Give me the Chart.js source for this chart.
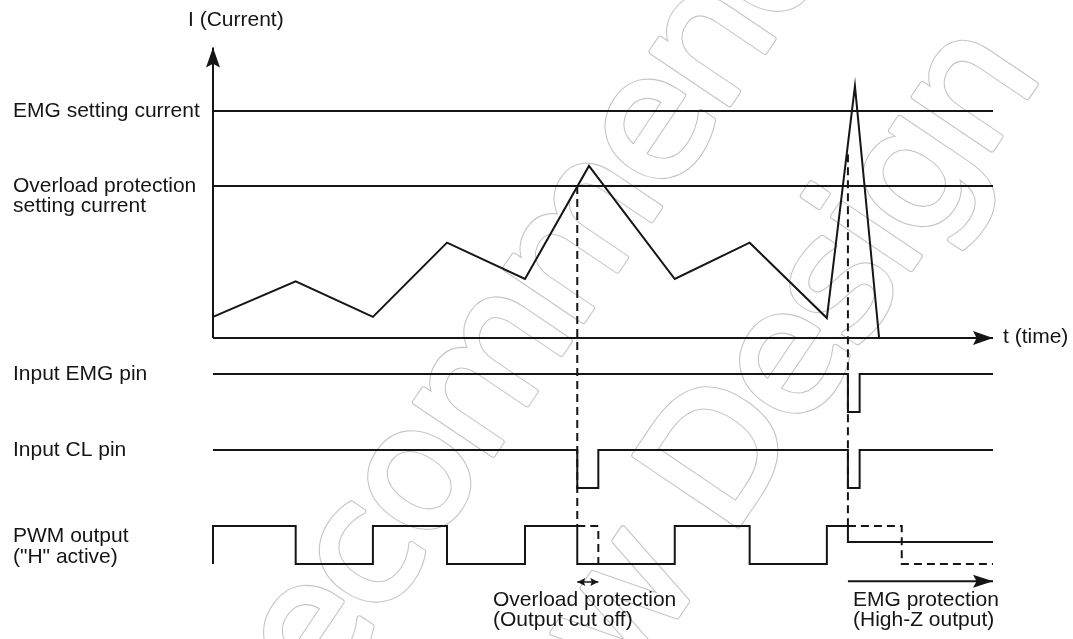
<!DOCTYPE html>
<html>
<head>
<meta charset="utf-8">
<script src="https://cdn.jsdelivr.net/npm/chart.js@4.4.0/dist/chart.umd.min.js"></script>
<style>
  html, body { margin: 0; padding: 0; background: #fff; }
  #wrap { width: 1073px; height: 639px; }
</style>
</head>
<body>
<div id="wrap"><canvas id="timing" width="1073" height="639"></canvas></div>
<script>
// time runs 0..100 from the current axis to the arrow tip
const currentTimes  = [0, 10.6, 20.5, 30, 40, 48.2, 59.2, 68.8, 78.7, 82.3, 85.4];
const currentValues = [0.93, 2.5, 0.93, 4.2, 2.6, 7.58, 2.6, 4.2, 0.88, 11.1, 0];
const emgSetting = 10;
const overloadSetting = 6.7;
const currentAxisTop = 12.8;

// logic levels: 1 = high, 0 = low, 0.58 = high-Z
const emgPinTimes  = [0, 81.4, 82.9, 100];
const emgPinLevels = [1, 0, 1, 1];
const clPinTimes   = [0, 46.7, 49.4, 81.4, 82.9, 100];
const clPinLevels  = [1, 0, 1, 0, 1, 1];
const pwmTimes     = [0, 0, 10.6, 20.5, 30, 40, 46.7, 59.2, 68.8, 78.7, 81.4, 100];
const pwmLevels    = [0, 1, 0, 1, 0, 1, 0, 1, 0, 1, 0.58, 0.58];
// what PWM would have done without protection (dashed)
const pwmCutTimes  = [46.7, 49.4];
const pwmCutLevels = [1, 0];
const pwmEmgTimes  = [81.4, 88.3, 100];
const pwmEmgLevels = [1, 0, 0];

// protection triggers: time and current where the dashed marker starts
const triggerTimes   = [46.7, 81.4];
const triggerCurrent = [6.7, 8.1];
const overloadWindow = [46.7, 49.4];
const emgWindow      = [81.4, 100];

const INK = '#151515';
const FONT = '21px "Liberation Sans", Arial, sans-serif';

// row offsets on the signal axis
const ROW_EMG = 4, ROW_CL = 2, ROW_PWM = 0;

function pts(xs, ys, off) {
  off = off || 0;
  return xs.map((x, i) => ({ x: x, y: ys[i] + off }));
}

function line(data, axis, extra) {
  return Object.assign({
    data: data,
    yAxisID: axis,
    borderColor: INK,
    borderWidth: 2,
    pointRadius: 0,
    fill: false,
    tension: 0,
    clip: false
  }, extra || {});
}

function arrowHead(ctx, tx, ty, dx, dy, len, half) {
  const bx = tx - dx * len, by = ty - dy * len;
  const nx = -dy, ny = dx;
  const notch = len * 0.82;
  ctx.beginPath();
  ctx.moveTo(tx, ty);
  ctx.lineTo(bx + nx * half, by + ny * half);
  ctx.lineTo(tx - dx * notch, ty - dy * notch);
  ctx.lineTo(bx - nx * half, by - ny * half);
  ctx.closePath();
  ctx.fill();
}

// faint "Not Recommended for New Design" stamp
const watermark = {
  id: 'watermark',
  beforeDatasetsDraw(chart) {
    const ctx = chart.ctx;
    const size = 172;
    const lines = [
      { text: 'Not Recommended', prefix: 'Not Rec', ch: 'o', at: [418, 483], half: 0.27 },
      { text: 'for New Design', prefix: 'for New ', ch: 'D', at: [712, 452], half: 0.365 }
    ];
    ctx.save();
    ctx.font = size + 'px "DejaVu Sans", sans-serif';
    ctx.letterSpacing = '-6px';
    ctx.lineJoin = 'round';
    ctx.textBaseline = 'alphabetic';
    lines.forEach(l => {
      const w = ctx.measureText(l.prefix).width + ctx.measureText(l.ch).width / 2;
      ctx.save();
      ctx.translate(l.at[0], l.at[1]);
      ctx.rotate(-56 * Math.PI / 180);
      const x0 = -w, y0 = l.half * size;
      ctx.strokeStyle = '#c4c4c4'; ctx.fillStyle = '#c4c4c4'; ctx.lineWidth = 6;
      ctx.strokeText(l.text, x0, y0); ctx.fillText(l.text, x0, y0);
      ctx.strokeStyle = '#fff'; ctx.fillStyle = '#fff'; ctx.lineWidth = 3.8;
      ctx.strokeText(l.text, x0, y0); ctx.fillText(l.text, x0, y0);
      ctx.restore();
    });
    ctx.restore();
  }
};

const annotations = {
  id: 'annotations',
  afterDatasetsDraw(chart) {
    const ctx = chart.ctx;
    const x = chart.scales.x, yI = chart.scales.yI, yS = chart.scales.yS;
    ctx.save();

    // dashed trigger markers from the current plot down to the PWM row
    ctx.strokeStyle = INK;
    ctx.lineWidth = 2;
    ctx.setLineDash([8, 5]);
    triggerTimes.forEach((t, i) => {
      const px = x.getPixelForValue(t);
      ctx.beginPath();
      ctx.moveTo(px, yI.getPixelForValue(triggerCurrent[i]));
      ctx.lineTo(px, yS.getPixelForValue(ROW_PWM + 1));
      ctx.stroke();
    });
    ctx.setLineDash([]);

    // axis arrows
    ctx.fillStyle = INK;
    arrowHead(ctx, x.getPixelForValue(100), yI.getPixelForValue(0), 1, 0, 20, 7);
    arrowHead(ctx, x.getPixelForValue(0), yI.getPixelForValue(currentAxisTop), 0, -1, 20, 7);

    // protection windows
    const yEmgArrow = yS.getPixelForValue(-0.45);
    arrowHead(ctx, x.getPixelForValue(emgWindow[1]), yEmgArrow, 1, 0, 20, 6.5);
    const yOvl = yS.getPixelForValue(-0.47);
    arrowHead(ctx, x.getPixelForValue(overloadWindow[1]), yOvl, 1, 0, 8, 4);
    arrowHead(ctx, x.getPixelForValue(overloadWindow[0]), yOvl, -1, 0, 8, 4);

    // texts
    ctx.font = FONT;
    ctx.fillStyle = INK;
    ctx.textBaseline = 'middle';
    ctx.textAlign = 'left';
    const left = 13;
    ctx.fillText('I (Current)', 188, 20);
    ctx.fillText('EMG setting current', left, yI.getPixelForValue(emgSetting));
    const yo = yI.getPixelForValue(overloadSetting);
    ctx.fillText('Overload protection', left, yo);
    ctx.fillText('setting current', left, yo + 20);
    ctx.fillText('Input EMG pin', left, yS.getPixelForValue(ROW_EMG + 1));
    ctx.fillText('Input CL pin', left, yS.getPixelForValue(ROW_CL + 1));
    const pm = yS.getPixelForValue(ROW_PWM + 0.5);
    ctx.fillText('PWM output', left, pm - 9);
    ctx.fillText('("H" active)', left, pm + 12);
    ctx.fillText('t (time)', x.getPixelForValue(100) + 10, yI.getPixelForValue(0) - 1);

    const yb = yS.getPixelForValue(-0.47);
    ctx.fillText('Overload protection', 493, yb + 18);
    ctx.fillText('(Output cut off)', 493, yb + 38);
    ctx.fillText('EMG protection', 853, yb + 18);
    ctx.fillText('(High-Z output)', 853, yb + 38);

    ctx.restore();
  }
};

new Chart(document.getElementById('timing'), {
  type: 'line',
  data: {
    datasets: [
      line(pts(currentTimes, currentValues), 'yI'),
      line(pts([0, 100], [emgSetting, emgSetting]), 'yI'),
      line(pts([0, 100], [overloadSetting, overloadSetting]), 'yI'),
      line(pts([0, 100], [0, 0]), 'yI'),
      line(pts([0, 0], [0, currentAxisTop]), 'yI'),
      line(pts(emgPinTimes, emgPinLevels, ROW_EMG), 'yS', { stepped: 'before' }),
      line(pts(clPinTimes, clPinLevels, ROW_CL), 'yS', { stepped: 'before' }),
      line(pts(pwmTimes, pwmLevels, ROW_PWM), 'yS', { stepped: 'before' }),
      line(pts(pwmCutTimes, pwmCutLevels, ROW_PWM), 'yS', { stepped: 'before', borderDash: [8, 5] }),
      line(pts(pwmEmgTimes, pwmEmgLevels, ROW_PWM), 'yS', { stepped: 'before', borderDash: [8, 5] }),
      line(pts(emgWindow, [-0.45, -0.45]), 'yS'),
      line(pts(overloadWindow, [-0.47, -0.47]), 'yS', { borderWidth: 1.5 })
    ]
  },
  options: {
    responsive: false,
    animation: false,
    events: [],
    layout: { autoPadding: false, padding: { left: 213, right: 80, top: 0, bottom: 0 } },
    plugins: { legend: { display: false }, tooltip: { enabled: false } },
    scales: {
      x:  { type: 'linear', min: 0, max: 100, display: false },
      yI: { type: 'linear', min: -13.26, max: 14.89, display: false },
      yS: { type: 'linear', min: -1.97, max: 14.84, display: false }
    }
  },
  plugins: [watermark, annotations]
});
</script>
</body>
</html>
